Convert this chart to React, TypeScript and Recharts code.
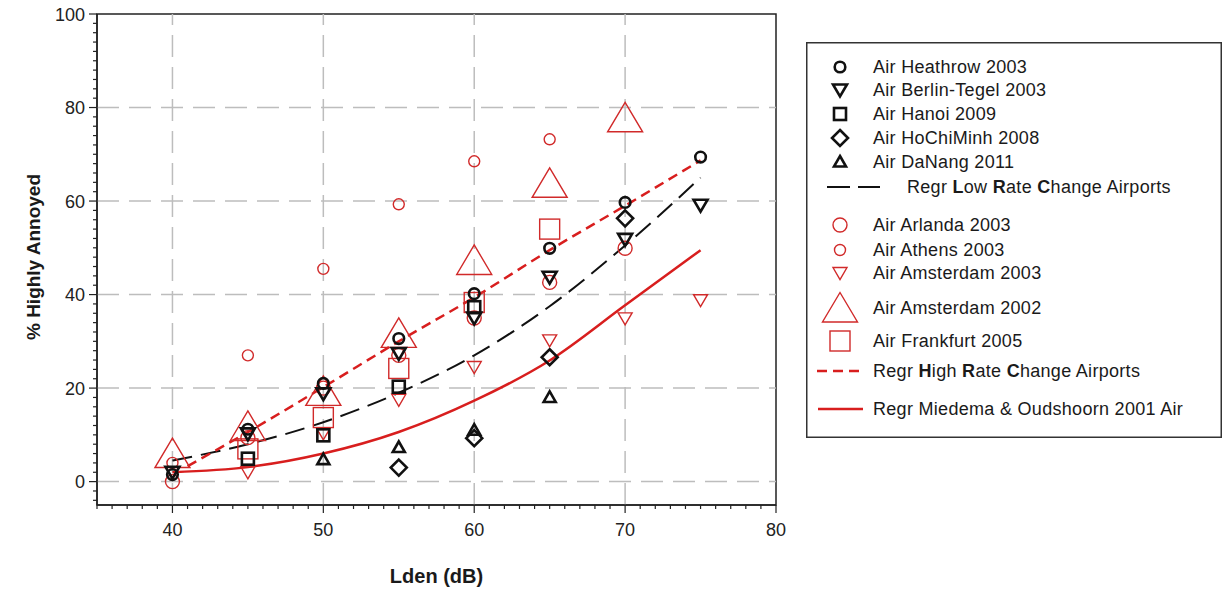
import React from 'react';
import {
  ComposedChart,
  Scatter,
  Line,
  XAxis,
  YAxis,
  Legend,
  ReferenceArea,
  ReferenceLine,
} from 'recharts';

const RED = '#d12a2a';
const LRED = '#d81e1e';
const BLACK = '#111111';
const AXIS = '#222222';
const FONT = '"Liberation Sans", Arial, sans-serif';

// Tick values
const xTicks = [35, 36, 37, 38, 39, 40, 41, 42, 43, 44, 45, 46, 47, 48, 49, 50, 51, 52, 53, 54, 55, 56, 57, 58, 59, 60, 61, 62, 63, 64, 65, 66, 67, 68, 69, 70, 71, 72, 73, 74, 75, 76, 77, 78, 79, 80];
const yTicks = [-4, -2, 0, 2, 4, 6, 8, 10, 12, 14, 16, 18, 20, 22, 24, 26, 28, 30, 32, 34, 36, 38, 40, 42, 44, 46, 48, 50, 52, 54, 56, 58, 60, 62, 64, 66, 68, 70, 72, 74, 76, 78, 80, 82, 84, 86, 88, 90, 92, 94, 96, 98, 100];
const xGrid = [40, 50, 60, 70];
const yGrid = [0, 20, 40, 60, 80];

// Low rate change airports (black)
const heathrow = [
  { x: 40, y: 1.5 }, { x: 45, y: 11.2 }, { x: 50, y: 21 }, { x: 55, y: 30.6 },
  { x: 60, y: 40.2 }, { x: 65, y: 49.9 }, { x: 70, y: 59.7 }, { x: 75, y: 69.4 },
];
const berlin = [
  { x: 40, y: 2 }, { x: 45, y: 10.2 }, { x: 50, y: 18.8 }, { x: 55, y: 27.4 },
  { x: 60, y: 35 }, { x: 65, y: 43.7 }, { x: 70, y: 51.8 }, { x: 75, y: 59.1 },
];
const hanoi = [
  { x: 45, y: 4.9 }, { x: 50, y: 9.9 }, { x: 55, y: 20.3 }, { x: 60, y: 37.3 },
];
const hochiminh = [
  { x: 55, y: 3 }, { x: 60, y: 9.3 }, { x: 65, y: 26.6 }, { x: 70, y: 56.3 },
];
const danang = [
  { x: 50, y: 4.7 }, { x: 55, y: 7.3 }, { x: 60, y: 11 }, { x: 65, y: 18 },
];

// High rate change airports (red)
const arlanda = [
  { x: 40, y: 0 }, { x: 45, y: 9.4 }, { x: 50, y: 20 }, { x: 55, y: 27 },
  { x: 60, y: 35 }, { x: 65, y: 42.6 }, { x: 70, y: 49.9 },
];
const athens = [
  { x: 40, y: 4 }, { x: 45, y: 27 }, { x: 50, y: 45.5 }, { x: 55, y: 59.3 },
  { x: 60, y: 68.5 }, { x: 65, y: 73.2 },
];
const amsterdam2003 = [
  { x: 45, y: 2 }, { x: 50, y: 10.3 }, { x: 55, y: 17.5 }, { x: 60, y: 24.5 },
  { x: 65, y: 30.2 }, { x: 70, y: 34.9 }, { x: 75, y: 38.8 },
];
const amsterdam2002 = [
  { x: 40, y: 6 }, { x: 45, y: 11.8 }, { x: 50, y: 19.3 }, { x: 55, y: 31.7 },
  { x: 60, y: 47.3 }, { x: 65, y: 63.8 }, { x: 70, y: 77.8 },
];
const frankfurt = [
  { x: 45, y: 7 }, { x: 50, y: 13.7 }, { x: 55, y: 24.2 }, { x: 60, y: 38.3 }, { x: 65, y: 54 },
];

// Regression curves
const regrLow = [
  { x: 40, y: 4.5 }, { x: 45, y: 8 }, { x: 50, y: 12.7 }, { x: 55, y: 19 },
  { x: 60, y: 27 }, { x: 65, y: 37.5 }, { x: 70, y: 50.5 }, { x: 75, y: 65 },
];
const regrHigh = [
  { x: 41, y: 3.3 }, { x: 45, y: 10.6 }, { x: 50, y: 20.2 }, { x: 55, y: 30 },
  { x: 60, y: 39.4 }, { x: 65, y: 49.5 }, { x: 70, y: 59 }, { x: 75, y: 68.7 },
];
const regrMiedema = [
  { x: 40, y: 2 }, { x: 45, y: 3.1 }, { x: 50, y: 6 }, { x: 55, y: 10.6 },
  { x: 60, y: 17.3 }, { x: 65, y: 25.9 }, { x: 70, y: 37.7 }, { x: 75, y: 49.5 },
];

type Kind =
  | 'circleB' | 'downB' | 'squareB' | 'diamondB' | 'upB'
  | 'circleRL' | 'circleRS' | 'downR' | 'upRBig' | 'squareR';

function Sym({ kind, cx, cy }: { kind: Kind; cx: number; cy: number }) {
  const bw = 2.6;
  const rw = 1.4;
  switch (kind) {
    case 'circleB':
      return <circle cx={cx} cy={cy} r={5.3} fill="none" stroke={BLACK} strokeWidth={bw} />;
    case 'downB':
      return <path d={`M${cx - 7},${cy - 5.5} L${cx + 7},${cy - 5.5} L${cx},${cy + 6.5} Z`} fill="none" stroke={BLACK} strokeWidth={bw} strokeLinejoin="miter" />;
    case 'squareB':
      return <rect x={cx - 6} y={cy - 6} width={12} height={12} fill="none" stroke={BLACK} strokeWidth={bw} />;
    case 'diamondB':
      return <path d={`M${cx},${cy - 8} L${cx + 8},${cy} L${cx},${cy + 8} L${cx - 8},${cy} Z`} fill="none" stroke={BLACK} strokeWidth={bw} />;
    case 'upB':
      return <path d={`M${cx},${cy - 6} L${cx + 6},${cy + 4.5} L${cx - 6},${cy + 4.5} Z`} fill="none" stroke={BLACK} strokeWidth={bw} />;
    case 'circleRL':
      return <circle cx={cx} cy={cy} r={7} fill="none" stroke={RED} strokeWidth={rw} />;
    case 'circleRS':
      return <circle cx={cx} cy={cy} r={5.5} fill="none" stroke={RED} strokeWidth={rw} />;
    case 'downR':
      return <path d={`M${cx - 7},${cy - 5.5} L${cx + 7},${cy - 5.5} L${cx},${cy + 6.5} Z`} fill="none" stroke={RED} strokeWidth={rw} />;
    case 'upRBig':
      return <path d={`M${cx},${cy - 15.5} L${cx + 17.5},${cy + 14} L${cx - 17.5},${cy + 14} Z`} fill="none" stroke={RED} strokeWidth={rw} />;
    case 'squareR':
      return <rect x={cx - 10} y={cy - 10} width={20} height={20} fill="none" stroke={RED} strokeWidth={rw} />;
    default:
      return null;
  }
}

const shapeOf = (kind: Kind) => (p: any) => <Sym kind={kind} cx={p.cx} cy={p.cy} />;

function XTick(props: any) {
  const { x, y, payload } = props;
  const v = payload.value as number;
  const major = v % 10 === 0;
  return (
    <g>
      <line x1={x} x2={x} y1={y} y2={y + (major ? 8 : 4)} stroke={AXIS} strokeWidth={1.2} />
      {major && v >= 40 && (
        <text x={x} y={y + 31} textAnchor="middle" fontSize={18} fill="#222" fontFamily={FONT}>
          {v}
        </text>
      )}
    </g>
  );
}

function YTick(props: any) {
  const { x, y, payload } = props;
  const v = payload.value as number;
  const major = v % 20 === 0 && v >= 0;
  return (
    <g>
      <line x1={x - (major ? 8 : 4)} x2={x} y1={y} y2={y} stroke={AXIS} strokeWidth={1.2} />
      {major && (
        <text x={x - 12} y={y + 6.5} textAnchor="end" fontSize={18} fill="#222" fontFamily={FONT}>
          {v}
        </text>
      )}
    </g>
  );
}

const legendRows: { kind: Kind; label: string; y: number }[] = [
  { kind: 'circleB', label: 'Air Heathrow 2003', y: 25 },
  { kind: 'downB', label: 'Air Berlin-Tegel 2003', y: 48 },
  { kind: 'squareB', label: 'Air Hanoi 2009', y: 72 },
  { kind: 'diamondB', label: 'Air HoChiMinh 2008', y: 96 },
  { kind: 'upB', label: 'Air DaNang 2011', y: 120 },
  { kind: 'circleRL', label: 'Air Arlanda 2003', y: 183 },
  { kind: 'circleRS', label: 'Air Athens 2003', y: 208 },
  { kind: 'downR', label: 'Air Amsterdam 2003', y: 231 },
  { kind: 'upRBig', label: 'Air Amsterdam 2002', y: 266 },
  { kind: 'squareR', label: 'Air Frankfurt 2005', y: 299 },
];

function LegendBox() {
  const ts = { fontSize: 18, fill: '#1a1a1a', fontFamily: FONT, letterSpacing: 0.3 } as const;
  return (
    <svg width={416} height={396} style={{ display: 'block' }}>
      <rect x={0.75} y={0.75} width={414.5} height={394.5} fill="#fff" stroke="#333" strokeWidth={1.5} />
      {legendRows.map((r) => (
        <g key={r.label}>
          <Sym kind={r.kind} cx={34} cy={r.y} />
          <text x={67} y={r.y} dominantBaseline="central" {...ts}>{r.label}</text>
        </g>
      ))}
      <line x1={21} x2={74} y1={145} y2={145} stroke={BLACK} strokeWidth={2} strokeDasharray="23 8" />
      <text x={101} y={145} dominantBaseline="central" {...ts}>
        Regr <tspan fontWeight="bold">L</tspan>ow <tspan fontWeight="bold">R</tspan>ate{' '}
        <tspan fontWeight="bold">C</tspan>hange Airports
      </text>
      <line x1={11} x2={57} y1={329} y2={329} stroke={LRED} strokeWidth={2.5} strokeDasharray="10 6" />
      <text x={67} y={329} dominantBaseline="central" {...ts}>
        Regr <tspan fontWeight="bold">H</tspan>igh <tspan fontWeight="bold">R</tspan>ate{' '}
        <tspan fontWeight="bold">C</tspan>hange Airports
      </text>
      <line x1={12} x2={57} y1={367} y2={367} stroke={LRED} strokeWidth={2.5} />
      <text x={67} y={367} dominantBaseline="central" {...ts}>Regr Miedema &amp; Oudshoorn 2001 Air</text>
    </svg>
  );
}

export default function App() {
  return (
    <div
      style={{
        position: 'absolute',
        left: 0,
        top: 0,
        width: 1224,
        height: 589,
        background: '#fff',
        fontFamily: FONT,
      }}
    >
      <ComposedChart width={1224} height={589} margin={{ top: 14, right: 448, bottom: 0, left: 0 }}>
        <XAxis
          type="number"
          dataKey="x"
          domain={[35, 80]}
          ticks={xTicks}
          interval={0}
          tickSize={0}
          tickMargin={0}
          tickLine={false}
          tick={<XTick />}
          axisLine={{ stroke: AXIS, strokeWidth: 1.5 }}
          height={84}
          allowDataOverflow
          label={{
            content: (p: any) => {
              const vb = p.viewBox;
              return (
                <text x={vb.x + vb.width / 2} y={vb.y + 78} textAnchor="middle" fontSize={20} fontWeight="bold" fill="#1a1a1a" fontFamily={FONT}>
                  Lden (dB)
                </text>
              );
            },
          }}
        />
        <YAxis
          type="number"
          dataKey="y"
          domain={[-5, 100]}
          ticks={yTicks}
          interval={0}
          tickSize={0}
          tickMargin={0}
          tickLine={false}
          tick={<YTick />}
          axisLine={{ stroke: AXIS, strokeWidth: 1.5 }}
          width={97}
          allowDataOverflow
          label={{
            content: () => (
              <text
                x={33}
                y={257}
                transform="rotate(-90, 33, 257)"
                textAnchor="middle"
                dominantBaseline="central"
                fontSize={19}
                fontWeight="bold"
                fill="#1a1a1a"
                fontFamily={FONT}
              >
                % Highly Annoyed
              </text>
            ),
          }}
        />
        {xGrid.map((v) => (
          <ReferenceLine key={`gx${v}`} x={v} stroke="#bdbdbd" strokeWidth={1.5} strokeDasharray="22 10" />
        ))}
        {yGrid.map((v) => (
          <ReferenceLine key={`gy${v}`} y={v} stroke="#bdbdbd" strokeWidth={1.5} strokeDasharray="22 10" />
        ))}
        <ReferenceArea x1={35} x2={80} y1={-5} y2={100} fill="none" fillOpacity={0} stroke={AXIS} strokeWidth={1.5} />

        <Scatter data={arlanda} shape={shapeOf('circleRL')} isAnimationActive={false} legendType="none" />
        <Scatter data={athens} shape={shapeOf('circleRS')} isAnimationActive={false} legendType="none" />
        <Scatter data={amsterdam2003} shape={shapeOf('downR')} isAnimationActive={false} legendType="none" />
        <Scatter data={amsterdam2002} shape={shapeOf('upRBig')} isAnimationActive={false} legendType="none" />
        <Scatter data={frankfurt} shape={shapeOf('squareR')} isAnimationActive={false} legendType="none" />

        <Scatter data={heathrow} shape={shapeOf('circleB')} isAnimationActive={false} legendType="none" />
        <Scatter data={berlin} shape={shapeOf('downB')} isAnimationActive={false} legendType="none" />
        <Scatter data={hanoi} shape={shapeOf('squareB')} isAnimationActive={false} legendType="none" />
        <Scatter data={hochiminh} shape={shapeOf('diamondB')} isAnimationActive={false} legendType="none" />
        <Scatter data={danang} shape={shapeOf('upB')} isAnimationActive={false} legendType="none" />

        <Line data={regrMiedema} dataKey="y" type="monotone" stroke={LRED} strokeWidth={2.5} dot={false} activeDot={false} isAnimationActive={false} legendType="none" />
        <Line data={regrLow} dataKey="y" type="monotone" stroke={BLACK} strokeWidth={2} strokeDasharray="20 9" dot={false} activeDot={false} isAnimationActive={false} legendType="none" />
        <Line data={regrHigh} dataKey="y" type="monotone" stroke={LRED} strokeWidth={2.5} strokeDasharray="10 6" dot={false} activeDot={false} isAnimationActive={false} legendType="none" />

        <Legend
          layout="horizontal"
          verticalAlign="middle"
          align="center"
          content={() => <LegendBox />}
          wrapperStyle={{ position: 'absolute', left: 806, top: 42, width: 416, height: 396 }}
        />
      </ComposedChart>
    </div>
  );
}
